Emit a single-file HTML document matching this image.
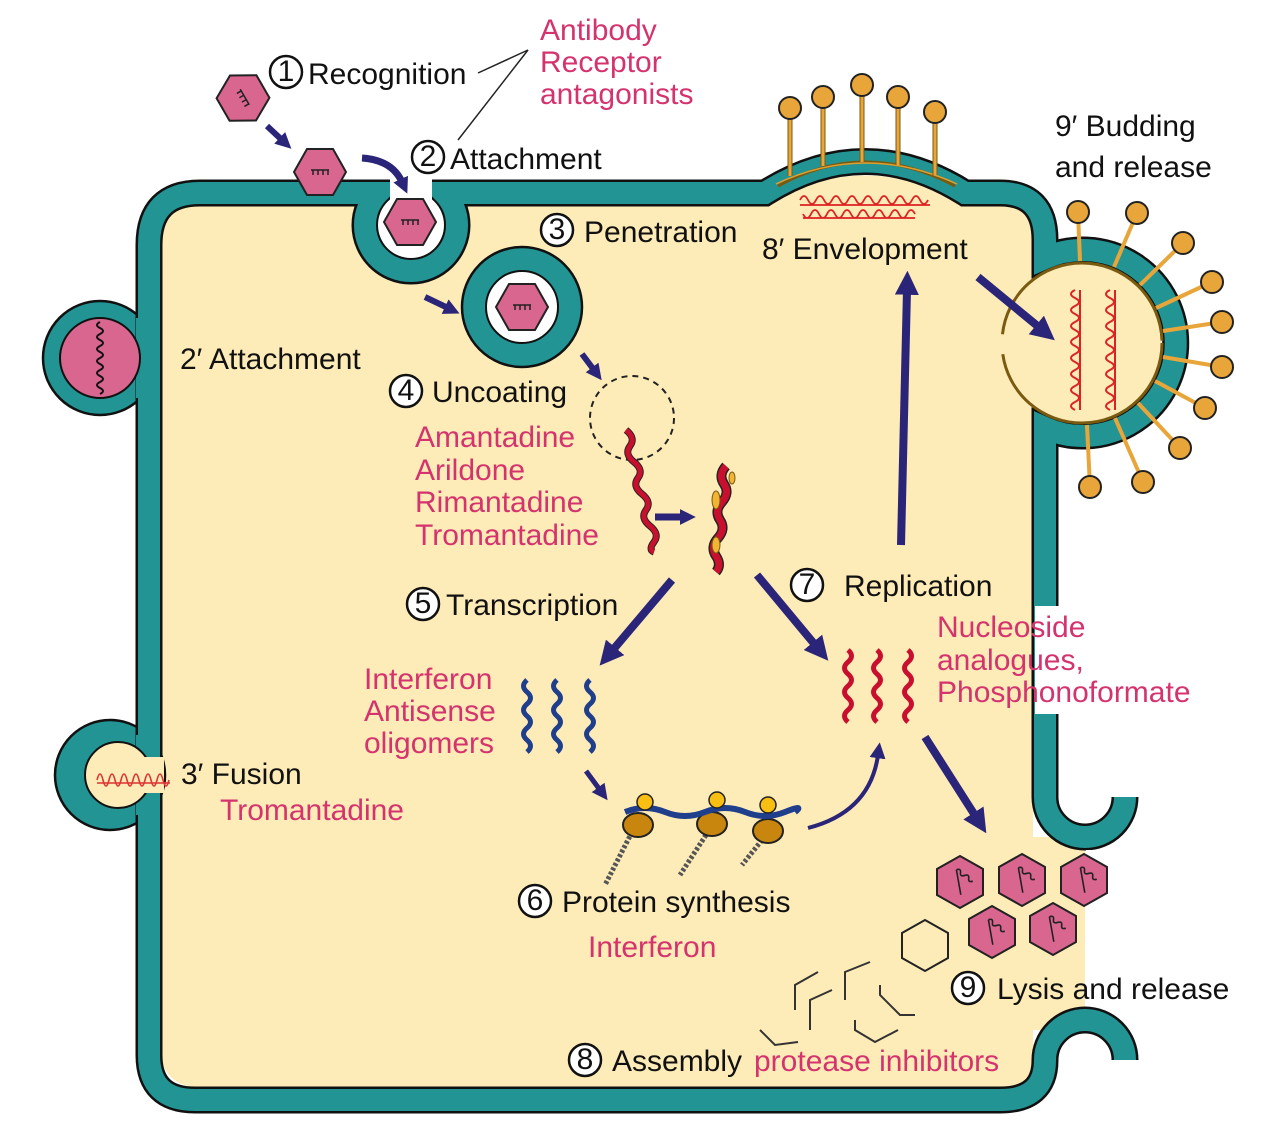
<!DOCTYPE html>
<html><head><meta charset="utf-8"><style>
html,body{margin:0;padding:0;background:#fff}
svg{display:block}
text{font-family:"Liberation Sans",sans-serif;font-size:30px}
.k{fill:#111}
.p{fill:#D4336E}
</style></head><body>
<svg width="1275" height="1125" viewBox="0 0 1275 1125" xmlns="http://www.w3.org/2000/svg">
<defs>
<marker id="a" viewBox="0 0 10 10" refX="2" refY="5" markerWidth="24" markerHeight="24" markerUnits="userSpaceOnUse" orient="auto"><path d="M0,0 L10,5 L0,10 z" fill="#2A2578"/></marker>
<marker id="s" viewBox="0 0 10 10" refX="2" refY="5" markerWidth="16" markerHeight="16" markerUnits="userSpaceOnUse" orient="auto"><path d="M0,0 L10,5 L0,10 z" fill="#2A2578"/></marker>
<g id="hx"><polygon points="-26,0 -13,-23 13,-23 26,0 13,23 -13,23" fill="#D9668F" stroke="#222" stroke-width="2"/><path d="M-9,-2 h18 M-7,-2 v5 M-2,-2 v5 M3,-2 v5 M8,-2 v5" stroke="#222" stroke-width="1.5" fill="none"/></g>
<g id="hv"><polygon points="0,-26 23,-13 23,13 0,26 -23,13 -23,-13" fill="#D9668F" stroke="#222" stroke-width="2"/><path d="M-10,-8 q3,-4 5,0 t5,0 t5,0 t5,0 M-10,-8 L8,10" stroke="#222" stroke-width="1.6" fill="none" transform="rotate(35)"/></g>
</defs>

<!-- cream interior -->
<path d="M160,245 Q160,204 205,204 H1010 Q1033,204 1033,240 V837 H1085 V1030 H1033 V1060 Q1033,1088 1000,1088 H205 Q160,1088 160,1045 Z" fill="#FDEBB8"/>
<path d="M760,206 Q865,145 970,206 Z" fill="#FDEBB8"/>
<circle cx="1082" cy="343" r="85" fill="#FDEBB8"/>

<!-- left bump 2' -->
<circle cx="100" cy="358" r="57" fill="#229494" stroke="#111" stroke-width="2.5"/>

<!-- fusion bump 3' -->
<circle cx="110" cy="775" r="55" fill="#229494" stroke="#111" stroke-width="2.5"/>

<!-- membrane -->
<path d="M1125,1060 A40,40 0 0 0 1045,1060 Q1045,1100 1000,1100 H195 Q149,1100 149,1055 V245 Q149,193 200,193 H378 A46,46 0 1 0 444,193 H765 Q865,130 965,193 H1000 Q1045,193 1045,240 V258 A93,93 0 1 1 1045,428 V797 A40,40 0 0 0 1125,797" fill="none" stroke="#111" stroke-width="27"/>
<path d="M1125,1060 A40,40 0 0 0 1045,1060 Q1045,1100 1000,1100 H195 Q149,1100 149,1055 V245 Q149,193 200,193 H378 A46,46 0 1 0 444,193 H765 Q865,130 965,193 H1000 Q1045,193 1045,240 V258 A93,93 0 1 1 1045,428 V797 A40,40 0 0 0 1125,797" fill="none" stroke="#229494" stroke-width="22"/>

<!-- bump masks -->
<rect x="136" y="318" width="22" height="80" fill="#229494"/>
<circle cx="100" cy="358" r="40" fill="#D9668F" stroke="#111" stroke-width="2"/>
<path d="M100,322 q-6,3 0,6 t0,6 t0,6 t0,6 t0,6 t0,6 t0,6 t0,6 t0,6 t0,6 t0,6 t0,6" fill="none" stroke="#111" stroke-width="2"/>
<rect x="136" y="735" width="22" height="80" fill="#229494"/>
<circle cx="118" cy="775" r="33" fill="#FDEBB8" stroke="#111" stroke-width="2"/>
<rect x="118" y="757" width="46" height="36" fill="#FDEBB8"/>
<path d="M97,780 q3,-12 6,0 t6,0 t6,0 t6,0 t6,0 t6,0 t6,0 t6,0 t6,0 t6,0 t6,0 t6,0 M97,783 H170" fill="none" stroke="#D33" stroke-width="1.6"/>

<!-- pit -->
<rect x="390" y="178" width="42" height="48" fill="#fff"/>
<circle cx="411" cy="225" r="33" fill="#fff"/>

<!-- envelope arc top -->
<path d="M778,186 Q865,138 955,186" fill="none" stroke="#7a5a10" stroke-width="3"/>
<path d="M776,184 Q865,142 957,184" fill="none" stroke="#E0A030" stroke-width="1.5"/>
<g stroke="#7a5a10" stroke-width="5"><line x1="790" y1="176" x2="790" y2="115"/><line x1="823" y1="166" x2="823" y2="104"/><line x1="862" y1="162" x2="862" y2="92"/><line x1="898" y1="165" x2="898" y2="104"/><line x1="935" y1="175" x2="935" y2="118"/></g>
<g stroke="#E8A63A" stroke-width="3"><line x1="790" y1="176" x2="790" y2="115"/><line x1="823" y1="166" x2="823" y2="104"/><line x1="862" y1="162" x2="862" y2="92"/><line x1="898" y1="165" x2="898" y2="104"/><line x1="935" y1="175" x2="935" y2="118"/></g>
<g fill="#E8A63A" stroke="#222" stroke-width="2"><circle cx="790" cy="108" r="11"/><circle cx="823" cy="97" r="11"/><circle cx="862" cy="85" r="11"/><circle cx="898" cy="97" r="11"/><circle cx="935" cy="112" r="11"/></g>
<path d="M800,200 q4,-8 8,0 t8,0 t8,0 t8,0 t8,0 t8,0 t8,0 t8,0 t8,0 t8,0 t8,0 t8,0 t8,0 t8,0 t8,0 t8,0 M800,205 H930 M803,214 q4,8 8,0 t8,0 t8,0 t8,0 t8,0 t8,0 t8,0 t8,0 t8,0 t8,0 t8,0 t8,0 t8,0 t8,0 M803,218 H915" fill="none" stroke="#D22" stroke-width="1.8"/>

<!-- bud -->
<circle cx="1082" cy="343" r="80" fill="none" stroke="#7a5a10" stroke-width="3" stroke-dasharray="240 20"/>
<g stroke="#E8A63A" stroke-width="4">
<line x1="1080" y1="261" x2="1078" y2="212"/><line x1="1114" y1="267" x2="1137" y2="213"/><line x1="1140" y1="285" x2="1183" y2="243"/><line x1="1156" y1="308" x2="1212" y2="282"/><line x1="1163" y1="331" x2="1222" y2="322"/><line x1="1163" y1="357" x2="1222" y2="367"/><line x1="1155" y1="381" x2="1205" y2="408"/><line x1="1138" y1="403" x2="1180" y2="448"/><line x1="1115" y1="418" x2="1143" y2="482"/><line x1="1087" y1="425" x2="1090" y2="487"/></g>
<g fill="#E8A63A" stroke="#222" stroke-width="2">
<circle cx="1078" cy="212" r="11"/><circle cx="1137" cy="213" r="11"/><circle cx="1183" cy="243" r="11"/><circle cx="1212" cy="282" r="11"/><circle cx="1222" cy="322" r="11"/><circle cx="1222" cy="367" r="11"/><circle cx="1205" cy="408" r="11"/><circle cx="1180" cy="448" r="11"/><circle cx="1143" cy="482" r="11"/><circle cx="1090" cy="487" r="11"/></g>
<path d="M1075,290 q-8,4 0,8 t0,8 t0,8 t0,8 t0,8 t0,8 t0,8 t0,8 t0,8 t0,8 t0,8 t0,8 t0,8 t0,8 t0,8 M1080,290 V410 M1110,290 q-8,4 0,8 t0,8 t0,8 t0,8 t0,8 t0,8 t0,8 t0,8 t0,8 t0,8 t0,8 t0,8 t0,8 t0,8 t0,8 M1115,290 V410" fill="none" stroke="#D22" stroke-width="2"/>

<!-- white label background right -->
<rect x="1035" y="606" width="165" height="108" fill="#fff"/>
<rect x="1086" y="850" width="40" height="155" fill="#fff"/>

<!-- endosome -->
<circle cx="522" cy="307" r="60" fill="#229494" stroke="#111" stroke-width="2.5"/>
<circle cx="522" cy="307" r="36" fill="#fff" stroke="#111" stroke-width="2"/>
<use href="#hx" x="522" y="307"/>
<use href="#hx" x="410" y="222"/>
<use href="#hx" x="320" y="172"/>
<use href="#hx" transform="translate(243,98) rotate(60)"/>

<!-- lysis hexes -->
<use href="#hv" x="960" y="882"/><use href="#hv" x="1022" y="880"/><use href="#hv" x="1084" y="880"/>
<use href="#hv" x="992" y="932"/><use href="#hv" x="1053" y="929"/>
<polygon points="925,920 948,933 948,958 925,971 902,958 902,933" fill="none" stroke="#222" stroke-width="2"/>
<g fill="none" stroke="#333" stroke-width="2">
<path d="M795,1010 V985 L818,972"/><path d="M810,1030 V1000 L832,990"/><path d="M845,1000 V972 L870,962"/><path d="M880,985 V995 L900,1015 L915,1015"/><path d="M855,1020 V1030 L875,1042 L898,1030"/><path d="M760,1030 L775,1045 L798,1042"/>
</g>

<!-- dashed circle and strands -->
<circle cx="632" cy="418" r="42" fill="none" stroke="#222" stroke-width="2" stroke-dasharray="6 5"/>
<path d="M626,430 q10,8 4,16 t4,16 t4,16 t4,16 t4,16 t4,16 t4,16 t0,10" fill="none" stroke="#222" stroke-width="7"/>
<path d="M626,430 q10,8 4,16 t4,16 t4,16 t4,16 t4,16 t4,16 t4,16 t0,10" fill="none" stroke="#C8102E" stroke-width="5"/>
<path d="M726,466 q-8,9 -2,18 t-2,18 t-2,18 t-2,18 t-2,18 t0,16" fill="none" stroke="#222" stroke-width="10"/>
<path d="M726,466 q-8,9 -2,18 t-2,18 t-2,18 t-2,18 t-2,18 t0,16" fill="none" stroke="#C8102E" stroke-width="7"/>
<g fill="#F2B533" stroke="#7a5a10" stroke-width="1"><ellipse cx="716" cy="500" rx="4" ry="9"/><ellipse cx="716" cy="545" rx="4" ry="8"/><ellipse cx="732" cy="478" rx="3" ry="6"/></g>
<g fill="none" stroke-width="5" stroke="#C8102E">
<path d="M848,650 q7,6 0,12 t0,12 t0,12 t0,12 t0,12 t0,12"/><path d="M877,650 q7,6 0,12 t0,12 t0,12 t0,12 t0,12 t0,12"/><path d="M908,650 q7,6 0,12 t0,12 t0,12 t0,12 t0,12 t0,12"/></g>
<g fill="none" stroke-width="5" stroke="#1F3E8C">
<path d="M527,680 q-7,6 0,12 t0,12 t0,12 t0,12 t0,12 t0,12"/><path d="M557,680 q-7,6 0,12 t0,12 t0,12 t0,12 t0,12 t0,12"/><path d="M590,680 q-7,6 0,12 t0,12 t0,12 t0,12 t0,12 t0,12"/></g>

<!-- ribosomes -->
<g fill="none" stroke="#555" stroke-width="2"><path d="M632,832 L605,885" stroke-dasharray="3 2" stroke-width="5"/><path d="M706,835 L680,875" stroke-dasharray="3 2" stroke-width="5"/><path d="M762,840 L742,865" stroke-dasharray="3 2" stroke-width="5"/></g>
<g fill="#C8860E" stroke="#222" stroke-width="2"><ellipse cx="638" cy="825" rx="15" ry="12"/><ellipse cx="712" cy="824" rx="15" ry="12"/><ellipse cx="768" cy="831" rx="15" ry="12"/></g>
<path d="M625,812 q20,-8 40,0 t40,0 t40,0 t40,0 t10,0" fill="none" stroke="#1F3E8C" stroke-width="6"/>
<g fill="#F8BE12" stroke="#222" stroke-width="1.5"><circle cx="645" cy="802" r="8"/><circle cx="717" cy="800" r="8"/><circle cx="768" cy="805" r="8"/></g>

<!-- arrows -->
<g stroke="#2A2578" fill="none" stroke-linecap="butt">
<line x1="267" y1="126" x2="282" y2="140" stroke-width="6" marker-end="url(#s)"/>
<path d="M362,158 Q392,160 402,182" stroke-width="7" marker-end="url(#s)"/>
<line x1="425" y1="297" x2="448" y2="308" stroke-width="6" marker-end="url(#s)"/>
<line x1="582" y1="354" x2="594" y2="370" stroke-width="6" marker-end="url(#s)"/>
<line x1="655" y1="517" x2="683" y2="517" stroke-width="7" marker-end="url(#s)"/>
<line x1="672" y1="580" x2="612" y2="651" stroke-width="8" marker-end="url(#a)"/>
<line x1="757" y1="575" x2="816" y2="646" stroke-width="8" marker-end="url(#a)"/>
<line x1="901" y1="545" x2="907" y2="290" stroke-width="8" marker-end="url(#a)"/>
<line x1="978" y1="277" x2="1040" y2="328" stroke-width="8" marker-end="url(#a)"/>
<line x1="925" y1="737" x2="976" y2="817" stroke-width="8" marker-end="url(#a)"/>
<line x1="586" y1="771" x2="600" y2="790" stroke-width="5" marker-end="url(#s)"/>
<path d="M808,828 Q870,812 878,755" stroke-width="4" marker-end="url(#s)"/>
</g>
<path d="M478,73 L528,50 L458,140" fill="none" stroke="#222" stroke-width="1.5"/>

<!-- numbered circles -->
<g fill="#fff" stroke="#111" stroke-width="2.5">
<circle cx="286" cy="72" r="16"/><circle cx="428" cy="157" r="16"/><circle cx="557" cy="230" r="16"/><circle cx="406" cy="391" r="16"/><circle cx="423" cy="604" r="16"/><circle cx="807" cy="585" r="16"/><circle cx="535" cy="901" r="16"/><circle cx="968" cy="988" r="16"/><circle cx="585" cy="1060" r="16"/></g>
<g class="k" text-anchor="middle" style="font-size:25px">
<text x="286" y="81">1</text><text x="428" y="166">2</text><text x="557" y="239">3</text><text x="406" y="400">4</text><text x="423" y="613">5</text><text x="807" y="594">7</text><text x="535" y="910">6</text><text x="968" y="997">9</text><text x="585" y="1069">8</text></g>

<!-- labels -->
<g class="k">
<text x="308" y="84">Recognition</text>
<text x="450" y="169">Attachment</text>
<text x="584" y="242">Penetration</text>
<text x="762" y="259">8′ Envelopment</text>
<text x="1055" y="136">9′ Budding</text>
<text x="1055" y="177">and release</text>
<text x="180" y="369">2′ Attachment</text>
<text x="432" y="402">Uncoating</text>
<text x="446" y="615">Transcription</text>
<text x="844" y="596">Replication</text>
<text x="181" y="784">3′ Fusion</text>
<text x="562" y="912">Protein synthesis</text>
<text x="997" y="999">Lysis and release</text>
<text x="612" y="1071">Assembly</text>
</g>
<g class="p">
<text x="540" y="40">Antibody</text>
<text x="540" y="72">Receptor</text>
<text x="540" y="104">antagonists</text>
<text x="415" y="447">Amantadine</text>
<text x="415" y="480">Arildone</text>
<text x="415" y="512">Rimantadine</text>
<text x="415" y="545">Tromantadine</text>
<text x="937" y="637">Nucleoside</text>
<text x="937" y="670">analogues,</text>
<text x="937" y="702">Phosphonoformate</text>
<text x="364" y="689">Interferon</text>
<text x="364" y="721">Antisense</text>
<text x="364" y="753">oligomers</text>
<text x="220" y="820">Tromantadine</text>
<text x="588" y="957">Interferon</text>
<text x="754" y="1071">protease inhibitors</text>
</g>
</svg>
</body></html>
